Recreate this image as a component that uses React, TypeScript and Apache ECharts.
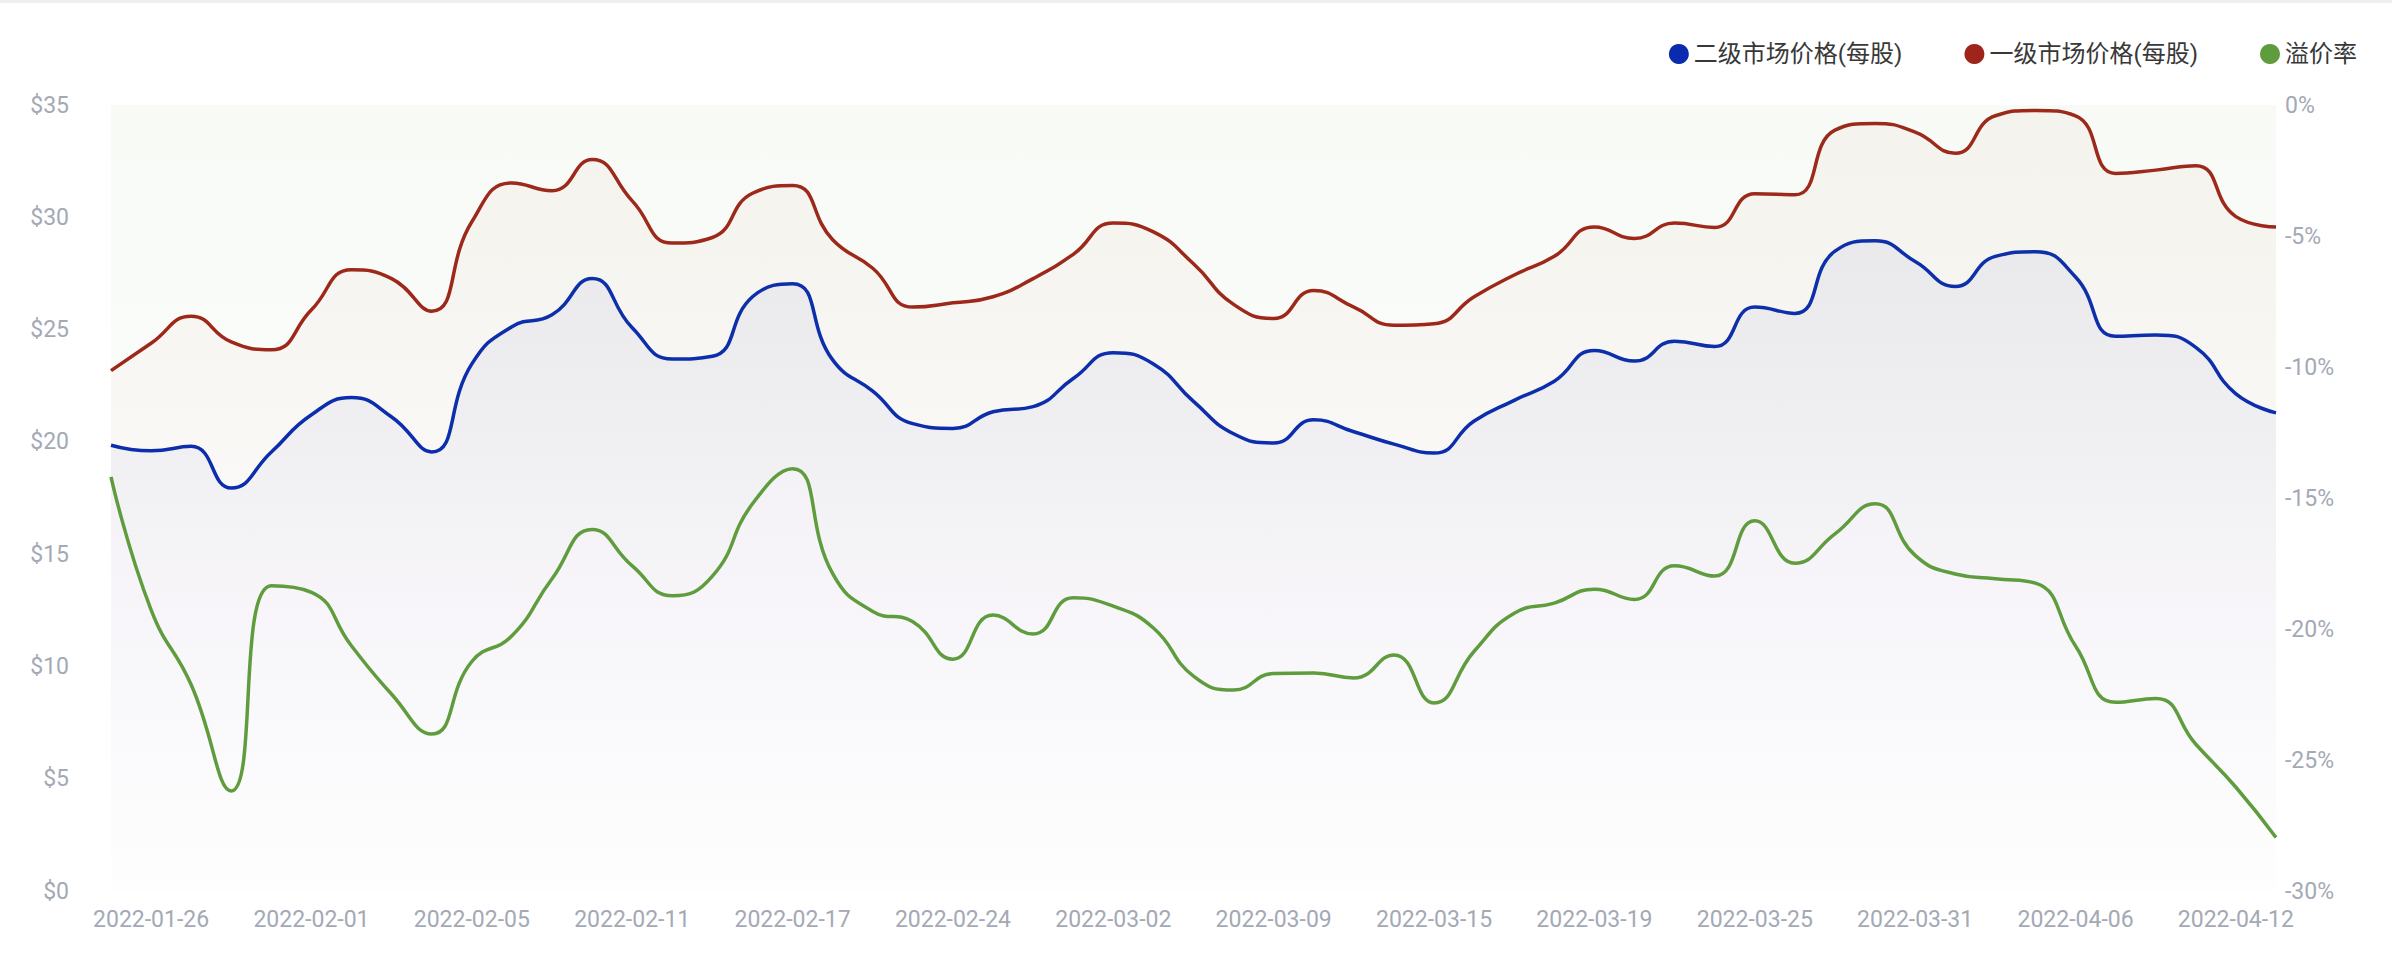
import React, { useEffect, useRef } from "react";
import * as echarts from "echarts";

const categories = [
  "2022-01-25", "2022-01-26", "2022-01-27", "2022-01-28", "2022-01-31",
  "2022-02-01", "2022-02-02", "2022-02-03", "2022-02-04", "2022-02-05",
  "2022-02-07", "2022-02-08", "2022-02-10", "2022-02-11", "2022-02-14",
  "2022-02-15", "2022-02-16", "2022-02-17", "2022-02-18", "2022-02-22",
  "2022-02-23", "2022-02-24", "2022-02-25", "2022-02-28", "2022-03-01",
  "2022-03-02", "2022-03-03", "2022-03-04", "2022-03-07", "2022-03-09",
  "2022-03-10", "2022-03-11", "2022-03-14", "2022-03-15", "2022-03-16",
  "2022-03-17", "2022-03-18", "2022-03-19", "2022-03-21", "2022-03-22",
  "2022-03-23", "2022-03-25", "2022-03-28", "2022-03-29", "2022-03-30",
  "2022-03-31", "2022-04-01", "2022-04-04", "2022-04-05", "2022-04-06",
  "2022-04-07", "2022-04-08", "2022-04-11", "2022-04-12", "2022-04-13",
];

const secondaryPrice = [
  19.85, 19.6, 19.8, 17.94, 19.55, 21.21, 21.97, 21.11, 19.55, 23.47,
  25.13, 25.66, 27.27, 25.08, 23.69, 23.81, 26.46, 27.04, 23.65, 22.26,
  20.81, 20.6, 21.34, 21.57, 22.82, 23.97, 23.47, 21.8, 20.36, 19.95,
  20.98, 20.45, 19.9, 19.5, 20.93, 21.85, 22.7, 24.07, 23.6, 24.48,
  24.25, 26.0, 25.72, 28.49, 28.95, 28.03, 26.92, 28.26, 28.47, 27.34,
  24.7, 24.76, 24.21, 22.14, 21.29,
];

const primaryPrice = [
  23.17, 24.39, 25.59, 24.45, 24.1, 25.88, 27.66, 27.27, 25.82, 29.8,
  31.53, 31.18, 32.57, 30.73, 28.85, 29.1, 31.07, 31.42, 29.0, 27.73,
  26.0, 26.19, 26.46, 27.27, 28.35, 29.74, 29.35, 27.93, 26.12, 25.49,
  26.74, 26.0, 25.19, 25.26, 26.46, 27.43, 28.26, 29.57, 29.06, 29.74,
  29.55, 31.05, 31.0, 33.88, 34.18, 33.79, 32.85, 34.52, 34.76, 34.52,
  31.95, 32.1, 32.3, 30.03, 29.57,
];

const premiumRate = [
  -14.19, -19.27, -22.13, -26.18, -18.35, -18.6, -20.65, -22.49, -24.01, -21.24,
  -20.26, -18.08, -16.2, -17.59, -18.73, -17.98, -15.22, -13.88, -17.89, -19.33,
  -19.72, -21.15, -19.47, -20.19, -18.81, -19.13, -19.96, -21.8, -22.33, -21.7,
  -21.68, -21.87, -20.99, -22.82, -20.85, -19.4, -19.01, -18.48, -18.87, -17.59,
  -17.98, -15.87, -17.49, -16.37, -15.22, -17.19, -17.9, -18.08, -18.25, -20.65,
  -22.8, -22.65, -24.4, -26.04, -27.96,
];

const seriesNames = ["二级市场价格(每股)", "一级市场价格(每股)", "溢价率"];

const BLUE = "#0a2bae";
const RED = "#9f2419";
const GREEN = "#5f9c3e";
const LABEL = "#a3a9b5";
const FONT = "Roboto, 'Noto Sans CJK SC', sans-serif";

export default function App() {
  const ref = useRef<HTMLDivElement>(null);

  useEffect(() => {
    document.body.style.margin = "0";
    const chart = echarts.init(ref.current as HTMLDivElement, null, { renderer: "svg" });
    const grad = (r: number, g: number, b: number, stops: [number, number][]) =>
      new echarts.graphic.LinearGradient(
        0,
        0,
        0,
        1,
        stops.map(([offset, a]) => ({ offset, color: `rgba(${r},${g},${b},${a})` }))
      );
    chart.setOption({
      animation: false,
      backgroundColor: "#ffffff",
      textStyle: { fontFamily: FONT },
      graphic: [
        {
          type: "rect",
          left: 0,
          top: 0,
          shape: { width: 2392, height: 3 },
          style: { fill: "#eceef1" },
          silent: true,
        },
      ],
      legend: {
        data: seriesNames,
        right: 30,
        top: 37,
        icon: "circle",
        itemWidth: 20,
        itemHeight: 20,
        itemGap: 62,
        textStyle: { fontSize: 24, color: "#383838", fontFamily: FONT },
      },
      grid: { left: 111, right: 116, top: 105, bottom: 85, containLabel: false },
      xAxis: {
        type: "category",
        data: categories,
        boundaryGap: false,
        axisLine: { show: false },
        axisTick: { show: false },
        splitLine: { show: false },
        axisLabel: {
          interval: (index: number) => index % 4 === 1,
          color: LABEL,
          fontSize: 23,
          margin: 17,
          fontFamily: FONT,
        },
      },
      yAxis: [
        {
          type: "value",
          min: 0,
          max: 35,
          interval: 5,
          axisLine: { show: false },
          axisTick: { show: false },
          splitLine: { show: false },
          axisLabel: {
            formatter: (v: number) => "$" + v,
            color: LABEL,
            fontSize: 23,
            margin: 42,
            fontFamily: FONT,
          },
        },
        {
          type: "value",
          min: -30,
          max: 0,
          interval: 5,
          position: "right",
          axisLine: { show: false },
          axisTick: { show: false },
          splitLine: { show: false },
          axisLabel: {
            formatter: (v: number) => v + "%",
            color: LABEL,
            fontSize: 23,
            margin: 9,
            fontFamily: FONT,
          },
        },
      ],
      series: [
        {
          name: seriesNames[0],
          type: "line",
          data: secondaryPrice,
          yAxisIndex: 0,
          smooth: true,
          showSymbol: false,
          itemStyle: { color: BLUE },
          lineStyle: { color: BLUE, width: 3.5 },
          areaStyle: {
            color: grad(40, 40, 170, [
              [0, 0.085],
              [0.6, 0.04],
              [1, 0.004],
            ]),
          },
          z: 3,
        },
        {
          name: seriesNames[1],
          type: "line",
          data: primaryPrice,
          yAxisIndex: 0,
          smooth: true,
          showSymbol: false,
          itemStyle: { color: RED },
          lineStyle: { color: RED, width: 3.5 },
          areaStyle: {
            color: grad(159, 50, 25, [
              [0, 0.055],
              [1, 0.004],
            ]),
          },
          z: 2,
        },
        {
          name: seriesNames[2],
          type: "line",
          data: premiumRate,
          yAxisIndex: 1,
          smooth: true,
          showSymbol: false,
          itemStyle: { color: GREEN },
          lineStyle: { color: GREEN, width: 3.5 },
          areaStyle: {
            origin: "end",
            color: grad(95, 156, 62, [
              [0, 0.07],
              [0.35, 0.045],
              [0.7, 0.0],
              [1, 0.0],
            ]),
          },
          z: 4,
        },
      ],
    });
    return () => chart.dispose();
  }, []);

  return <div ref={ref} style={{ width: 2392, height: 976 }} />;
}
